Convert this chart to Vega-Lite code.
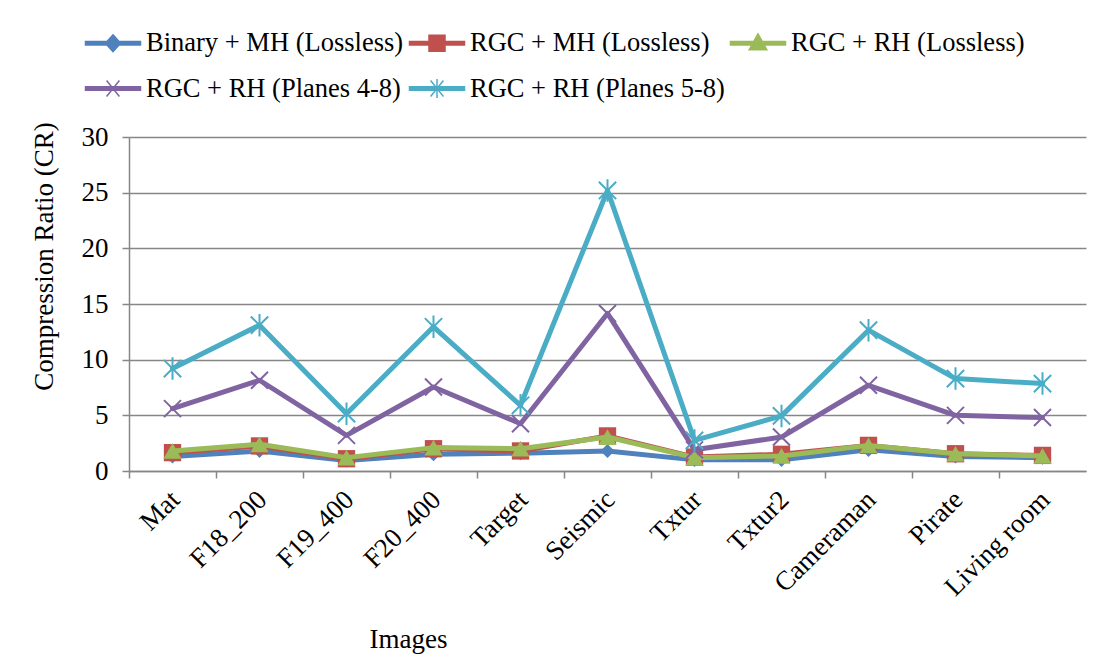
{
  "$schema": "https://vega.github.io/schema/vega-lite/v6.json",
  "width": 957,
  "height": 334,
  "autosize": {"type": "none"},
  "padding": {"left": 129, "top": 137, "right": 21, "bottom": 201},
  "background": "white",
  "config": {
    "font": "Liberation Serif",
    "view": {"stroke": null},
    "axis": {"labelFont": "Liberation Serif", "titleFont": "Liberation Serif", "labelFontSize": 27, "titleFontSize": 27, "labelColor": "black", "titleColor": "black", "titleFontWeight": "normal", "domainColor": "#868686", "tickColor": "#868686", "gridColor": "#868686", "domainWidth": 1.5, "tickWidth": 1.5, "gridWidth": 1.5}
  },
  "data": {
    "values": [
      {"image": "Mat", "series": "Binary + MH (Lossless)", "cr": 1.3},
      {"image": "F18_200", "series": "Binary + MH (Lossless)", "cr": 1.8},
      {"image": "F19_400", "series": "Binary + MH (Lossless)", "cr": 0.95},
      {"image": "F20_400", "series": "Binary + MH (Lossless)", "cr": 1.5},
      {"image": "Target", "series": "Binary + MH (Lossless)", "cr": 1.6},
      {"image": "Seismic", "series": "Binary + MH (Lossless)", "cr": 1.8},
      {"image": "Txtur", "series": "Binary + MH (Lossless)", "cr": 1.0},
      {"image": "Txtur2", "series": "Binary + MH (Lossless)", "cr": 1.0},
      {"image": "Cameraman", "series": "Binary + MH (Lossless)", "cr": 1.9},
      {"image": "Pirate", "series": "Binary + MH (Lossless)", "cr": 1.3},
      {"image": "Living room", "series": "Binary + MH (Lossless)", "cr": 1.2},
      {"image": "Mat", "series": "RGC + MH (Lossless)", "cr": 1.65},
      {"image": "F18_200", "series": "RGC + MH (Lossless)", "cr": 2.25},
      {"image": "F19_400", "series": "RGC + MH (Lossless)", "cr": 1.1},
      {"image": "F20_400", "series": "RGC + MH (Lossless)", "cr": 2.0},
      {"image": "Target", "series": "RGC + MH (Lossless)", "cr": 1.8},
      {"image": "Seismic", "series": "RGC + MH (Lossless)", "cr": 3.15},
      {"image": "Txtur", "series": "RGC + MH (Lossless)", "cr": 1.25},
      {"image": "Txtur2", "series": "RGC + MH (Lossless)", "cr": 1.5},
      {"image": "Cameraman", "series": "RGC + MH (Lossless)", "cr": 2.3},
      {"image": "Pirate", "series": "RGC + MH (Lossless)", "cr": 1.55},
      {"image": "Living room", "series": "RGC + MH (Lossless)", "cr": 1.4},
      {"image": "Mat", "series": "RGC + RH (Lossless)", "cr": 1.8},
      {"image": "F18_200", "series": "RGC + RH (Lossless)", "cr": 2.4},
      {"image": "F19_400", "series": "RGC + RH (Lossless)", "cr": 1.2},
      {"image": "F20_400", "series": "RGC + RH (Lossless)", "cr": 2.1},
      {"image": "Target", "series": "RGC + RH (Lossless)", "cr": 2.0},
      {"image": "Seismic", "series": "RGC + RH (Lossless)", "cr": 3.05},
      {"image": "Txtur", "series": "RGC + RH (Lossless)", "cr": 1.2},
      {"image": "Txtur2", "series": "RGC + RH (Lossless)", "cr": 1.35},
      {"image": "Cameraman", "series": "RGC + RH (Lossless)", "cr": 2.3},
      {"image": "Pirate", "series": "RGC + RH (Lossless)", "cr": 1.55},
      {"image": "Living room", "series": "RGC + RH (Lossless)", "cr": 1.35},
      {"image": "Mat", "series": "RGC + RH (Planes 4-8)", "cr": 5.6},
      {"image": "F18_200", "series": "RGC + RH (Planes 4-8)", "cr": 8.15},
      {"image": "F19_400", "series": "RGC + RH (Planes 4-8)", "cr": 3.2},
      {"image": "F20_400", "series": "RGC + RH (Planes 4-8)", "cr": 7.55},
      {"image": "Target", "series": "RGC + RH (Planes 4-8)", "cr": 4.25},
      {"image": "Seismic", "series": "RGC + RH (Planes 4-8)", "cr": 14.15},
      {"image": "Txtur", "series": "RGC + RH (Planes 4-8)", "cr": 1.9},
      {"image": "Txtur2", "series": "RGC + RH (Planes 4-8)", "cr": 3.05},
      {"image": "Cameraman", "series": "RGC + RH (Planes 4-8)", "cr": 7.7},
      {"image": "Pirate", "series": "RGC + RH (Planes 4-8)", "cr": 5.0},
      {"image": "Living room", "series": "RGC + RH (Planes 4-8)", "cr": 4.8},
      {"image": "Mat", "series": "RGC + RH (Planes 5-8)", "cr": 9.2},
      {"image": "F18_200", "series": "RGC + RH (Planes 5-8)", "cr": 13.1},
      {"image": "F19_400", "series": "RGC + RH (Planes 5-8)", "cr": 5.15},
      {"image": "F20_400", "series": "RGC + RH (Planes 5-8)", "cr": 12.95},
      {"image": "Target", "series": "RGC + RH (Planes 5-8)", "cr": 5.9},
      {"image": "Seismic", "series": "RGC + RH (Planes 5-8)", "cr": 25.2},
      {"image": "Txtur", "series": "RGC + RH (Planes 5-8)", "cr": 2.75},
      {"image": "Txtur2", "series": "RGC + RH (Planes 5-8)", "cr": 4.95},
      {"image": "Cameraman", "series": "RGC + RH (Planes 5-8)", "cr": 12.65},
      {"image": "Pirate", "series": "RGC + RH (Planes 5-8)", "cr": 8.3},
      {"image": "Living room", "series": "RGC + RH (Planes 5-8)", "cr": 7.85}
    ]
  },
  "encoding": {
    "x": {
      "field": "image", "type": "nominal", "sort": null, "bandPosition": 0.5,
      "scale": {"type": "band", "paddingInner": 0, "paddingOuter": 0},
      "axis": {"title": "Images", "labelAngle": -45, "labelAlign": "right", "labelBaseline": "top", "bandPosition": 0, "labelOffset": -6, "labelPadding": 8, "tickSize": 7, "grid": false, "titleX": 279, "titleY": 176, "titleBaseline": "alphabetic", "titleAlign": "center", "labelLimit": 300}
    },
    "y": {
      "field": "cr", "type": "quantitative",
      "scale": {"domain": [0, 30], "nice": false},
      "axis": {"title": "Compression Ratio (CR)", "values": [0, 5, 10, 15, 20, 25, 30], "tickSize": 7, "labelPadding": 14, "titleX": -77, "titleY": 119, "titleAngle": 270, "titleAlign": "center", "titleBaseline": "alphabetic"}
    },
    "color": {
      "field": "series", "type": "nominal",
      "scale": {"domain": ["Binary + MH (Lossless)", "RGC + MH (Lossless)", "RGC + RH (Lossless)", "RGC + RH (Planes 4-8)", "RGC + RH (Planes 5-8)"], "range": ["#4F81BD", "#C0504D", "#9BBB59", "#8064A2", "#4BACC6"]}
    }
  },
  "layer": [
    {
      "transform": [{"filter": "false"}],
      "mark": {"type": "point", "filled": true, "size": 1600, "strokeWidth": 1.5, "opacity": 1},
      "encoding": {
        "color": {
          "field": "series", "type": "nominal",
          "legend": {
            "orient": "none", "legendX": -37, "legendY": -115, "columns": 3, "direction": "horizontal", "title": null,
            "labelFont": "Liberation Serif", "labelFontSize": 26.5, "labelColor": "black", "labelLimit": 400,
            "symbolSize": 1600, "symbolStrokeWidth": 1.5, "symbolOpacity": 1, "labelOffset": 12, "columnPadding": 2, "rowPadding": 10.5
          }
        },
        "stroke": {
          "field": "series", "type": "nominal",
          "scale": {"domain": ["Binary + MH (Lossless)", "RGC + MH (Lossless)", "RGC + RH (Lossless)", "RGC + RH (Planes 4-8)", "RGC + RH (Planes 5-8)"], "range": ["#4F81BD", "#C0504D", "#9BBB59", "#8064A2", "#4BACC6"]}
        },
        "shape": {
          "field": "series", "type": "nominal",
          "scale": {"domain": ["Binary + MH (Lossless)", "RGC + MH (Lossless)", "RGC + RH (Lossless)", "RGC + RH (Planes 4-8)", "RGC + RH (Planes 5-8)"], "range": [
            "M-1.375,-0.09L1.375,-0.09L1.375,0.09L-1.375,0.09Z M0,-0.42L0.38,0L0,0.42L-0.38,0Z",
            "M-1.375,-0.09L1.375,-0.09L1.375,0.09L-1.375,0.09Z M-0.4,-0.4L0.4,-0.4L0.4,0.4L-0.4,0.4Z",
            "M-1.375,-0.09L1.375,-0.09L1.375,0.09L-1.375,0.09Z M0,-0.47L0.44,0.32L-0.44,0.32Z",
            "M-1.375,-0.09L1.375,-0.09L1.375,0.09L-1.375,0.09Z M-0.32,-0.4L0.32,0.4M-0.32,0.4L0.32,-0.4",
            "M-1.375,-0.09L1.375,-0.09L1.375,0.09L-1.375,0.09Z M-0.32,-0.4L0.32,0.4M-0.32,0.4L0.32,-0.4M0,-0.48L0,0.48"
          ]}
        }
      }
    },
    {
      "transform": [{"filter": "datum.series === 'Binary + MH (Lossless)'"}],
      "layer": [
        {"mark": {"type": "line", "strokeWidth": 5, "strokeJoin": "round", "strokeCap": "round"}},
        {"mark": {"type": "point", "shape": "diamond", "filled": true, "size": 200, "opacity": 1}}
      ]
    },
    {
      "transform": [{"filter": "datum.series === 'RGC + MH (Lossless)'"}],
      "layer": [
        {"mark": {"type": "line", "strokeWidth": 5, "strokeJoin": "round", "strokeCap": "round"}},
        {"mark": {"type": "point", "shape": "square", "filled": true, "size": 300, "opacity": 1}}
      ]
    },
    {
      "transform": [{"filter": "datum.series === 'RGC + RH (Lossless)'"}],
      "layer": [
        {"mark": {"type": "line", "strokeWidth": 5, "strokeJoin": "round", "strokeCap": "round"}},
        {"mark": {"type": "point", "shape": "triangle-up", "filled": true, "size": 330, "opacity": 1}}
      ]
    },
    {
      "transform": [{"filter": "datum.series === 'RGC + RH (Planes 4-8)'"}],
      "layer": [
        {"mark": {"type": "line", "strokeWidth": 5, "strokeJoin": "round", "strokeCap": "round"}},
        {"mark": {"type": "point", "shape": "M-1,-1L1,1M-1,1L1,-1", "filled": false, "size": 289, "strokeWidth": 2, "opacity": 1}}
      ]
    },
    {
      "transform": [{"filter": "datum.series === 'RGC + RH (Planes 5-8)'"}],
      "layer": [
        {"mark": {"type": "line", "strokeWidth": 5, "strokeJoin": "round", "strokeCap": "round"}},
        {"mark": {"type": "point", "shape": "M-1,-1L1,1M-1,1L1,-1M0,-1.3L0,1.3", "filled": false, "size": 300, "strokeWidth": 2, "opacity": 1}}
      ]
    }
  ]
}
